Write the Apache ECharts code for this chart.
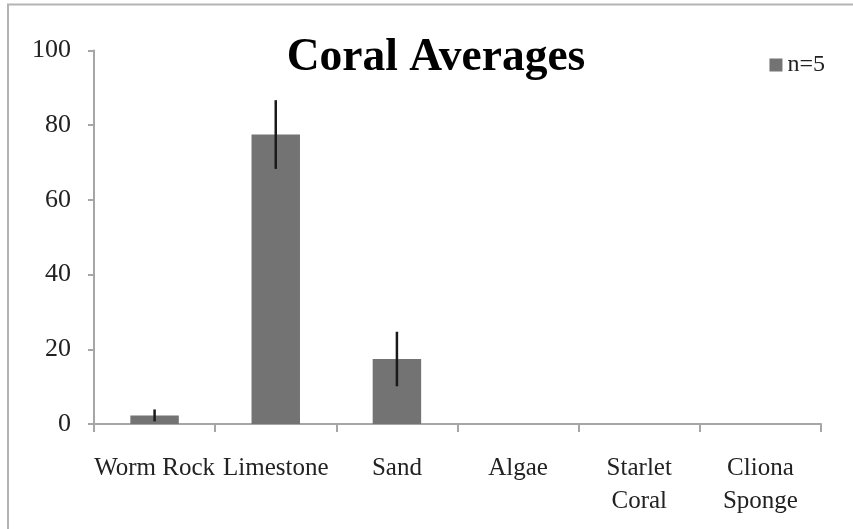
<!DOCTYPE html>
<html>
<head>
<meta charset="utf-8">
<script src="https://cdn.jsdelivr.net/npm/echarts@6/dist/echarts.min.js"></script>
<style>
html,body{margin:0;padding:0;background:#fff;}
#c{width:853px;height:529px;}
</style>
</head>
<body>
<div id="c"></div>
<script>
var categories = ['Worm Rock', 'Limestone', 'Sand', 'Algae', 'Starlet\nCoral', 'Cliona\nSponge'];
var means = [2.3, 77.5, 17.4, 0, 0, 0];
var errors = [1.6, 9.2, 7.3, 0, 0, 0];
var yTicks = [0, 20, 40, 60, 80, 100];
var seriesName = 'n=5';
var titleText = 'Coral Averages';

var font = '"Liberation Serif", "DejaVu Serif", serif';
var chart = echarts.init(document.getElementById('c'));
var errData = categories.map(function (c, i) { return [i, means[i] - errors[i], means[i] + errors[i]]; });

chart.setOption({
  animation: false,
  backgroundColor: '#fff',
  title: {
    text: titleText, left: 431, top: 30, textAlign: 'center',
    textStyle: { fontFamily: font, fontWeight: 'bold', fontSize: 45.5, color: '#000' }
  },
  legend: {
    data: [seriesName], right: 23, top: 48, itemWidth: 13, itemHeight: 13, itemGap: 5,
    icon: 'rect',
    textStyle: { fontFamily: font, fontSize: 24, color: '#222', padding: [0, 0, 0, 0] }
  },
  graphic: [{
    type: 'rect', shape: { x: 8, y: 4.5, width: 900, height: 600 },
    style: { fill: 'none', stroke: '#b4b4b4', lineWidth: 2 }, silent: true
  }],
  grid: { left: 94, right: 32, top: 50.5, bottom: 105 },
  xAxis: {
    type: 'category', data: categories,
    axisLine: { lineStyle: { color: '#a6a6a6', width: 2 } },
    axisTick: { show: true, length: 8, lineStyle: { color: '#a6a6a6', width: 2 } },
    axisLabel: { interval: 0, margin: 28, fontFamily: font, fontSize: 25, color: '#222', lineHeight: 33 }
  },
  yAxis: {
    type: 'value', min: yTicks[0], max: yTicks[yTicks.length - 1], interval: 20,
    splitLine: { show: false },
    axisLine: { show: true, lineStyle: { color: '#a6a6a6', width: 2 } },
    axisTick: { show: true, length: 6, lineStyle: { color: '#a6a6a6', width: 2 } },
    axisLabel: { margin: 23, fontFamily: font, fontSize: 26, color: '#222' }
  },
  series: [{
    name: seriesName, type: 'bar', data: means, barWidth: '40%',
    itemStyle: { color: '#737373' }
  }, {
    type: 'custom', data: errData, z: 10, silent: true,
    renderItem: function (params, api) {
      if (api.value(2) - api.value(1) <= 0) return null;
      var lo = api.coord([api.value(0), api.value(1)]);
      var hi = api.coord([api.value(0), api.value(2)]);
      return { type: 'line', shape: { x1: lo[0], y1: lo[1], x2: hi[0], y2: hi[1] },
        style: { stroke: '#1a1a1a', lineWidth: 2.5 } };
    }
  }]
});
</script>
</body>
</html>
